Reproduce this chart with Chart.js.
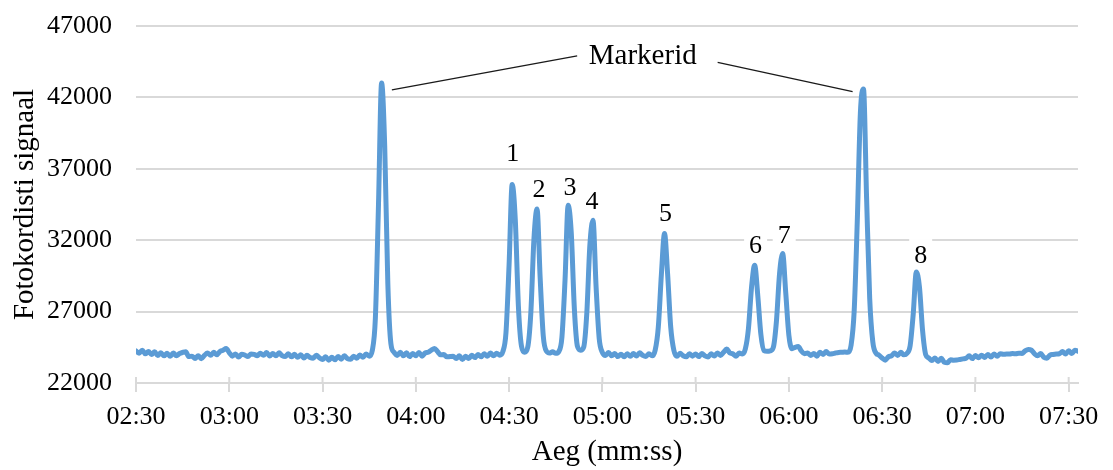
<!DOCTYPE html>
<html>
<head>
<meta charset="utf-8">
<script src="https://cdn.jsdelivr.net/npm/chart.js@4"></script>
<style>
  html, body { margin: 0; padding: 0; background: #fff; }
</style>
</head>
<body>
<canvas id="chart" width="1113" height="470"></canvas>
<script>
// x axis: seconds since start, shown as mm:ss
var tickSecs = [150, 180, 210, 240, 270, 300, 330, 360, 390, 420, 450];
var tickLabels = ['02:30', '03:00', '03:30', '04:00', '04:30', '05:00', '05:30', '06:00', '06:30', '07:00', '07:30'];

// photodetector signal, one reading per second starting at 02:30
var startSec = 150;
var signal = [
    // 02:30
    24250, 24080, 24300, 24040, 24200, 24000, 24180, 23930, 24110, 23900,
    24080, 23870, 24100, 23910, 24060, 24140, 24190, 23850, 23880, 23720,
    23900, 23700, 23930, 24100, 23940, 24150, 23980, 24200, 24300, 24420,
    // 03:00
    24120, 23880, 24030, 23820, 24010, 23960, 23850, 24030, 24000, 23910,
    24090, 23940, 24130, 23890, 24070, 23900, 24110, 23920, 23860, 24040,
    23830, 24010, 23800, 23970, 23750, 23940, 23780, 23730, 23950, 23770,
    // 03:30
    23650, 23830, 23600, 23800, 23630, 23860, 23670, 23910, 23710, 23660,
    23870, 23730, 23960, 23800, 24030, 23880, 24280, 26570, 34490, 43000,
    38590, 28980, 24740, 24150, 23930, 24150, 23900, 24110, 23850, 24070,
    // 04:00
    23910, 24130, 23880, 24100, 24150, 24300, 24420, 24200, 23970, 23990,
    23830, 23850, 23870, 23710, 23900, 23650, 23870, 23710, 23950, 23780,
    24000, 23830, 24050, 23870, 24100, 23910, 24080, 23950, 24200, 25510,
    // 04:30
    30260, 35900, 33440, 27390, 24570, 24150, 24500, 26910, 32080, 34190,
    29360, 25300, 24230, 24100, 24180, 24080, 24200, 25210, 29210, 34440,
    32540, 27200, 24560, 24300, 24510, 26880, 31680, 33390, 28690, 25100,
    // 05:00
    24150, 23930, 24130, 23900, 24070, 23850, 24020, 23830, 24040, 23870,
    24060, 23890, 24110, 23930, 23850, 24050, 23900, 24300, 25900, 29620,
    32470, 29620, 25900, 24300, 23870, 24080, 23910, 23830, 24050, 23880,
    // 05:30
    24030, 23850, 24070, 23900, 23820, 24040, 23890, 24100, 23930, 24150,
    24380, 24100, 24040, 23870, 24100, 24030, 24385, 25820, 28730, 30250,
    28120, 25390, 24270, 24220, 24250, 24500, 26330, 29660, 31060, 28300,
    // 06:00
    25350, 24400, 24500, 24550, 24250, 24050, 24100, 23930, 24070, 23880,
    24150, 24000, 24200, 24030, 24050, 24100, 24140, 24150, 24170, 24150,
    24640, 27010, 33300, 40900, 42590, 34950, 27920, 24880, 24100, 23950,
    // 06:30
    23750, 23600, 23830, 23900, 24100, 23930, 24150, 23970, 24080, 24600,
    26830, 29780, 28720, 25690, 24000, 23750, 23570, 23750, 23510, 23730,
    23450, 23420, 23630, 23600, 23610, 23650, 23690, 23730, 23900, 23710,
    // 07:00
    23930, 23770, 23950, 23790, 24000, 23820, 24030, 23870, 24050, 24010,
    24030, 24030, 24060, 24050, 24080, 24070, 24250, 24350, 24300, 24050,
    23900, 24070, 23800, 23740, 23950, 24000, 24030, 24050, 24200, 24030,
    // 07:30
    24250, 24070, 24300, 24220
];

// peak numbers and marker callout
var peakNames = ['1', '2', '3', '4', '5', '6', '7', '8'];
var markerText = 'Markerid';

// where the callouts sit, in axis units (seconds, signal)
var peakLabelAt = [[271.2, 38000], [279.6, 35500], [289.6, 35630], [296.7, 34650],
                   [320.3, 33820], [349.3, 31580], [358.5, 32280], [402.4, 30890]];
var markerTextAt = [313, 44900];
var markerLeaders = [[232.3, 42520, 291.9, 44915], [337.1, 44450, 380.5, 42400]];

var serif = "'Liberation Serif', 'Times New Roman', serif";
var gridGrey = '#d9d9d9';

var points = signal.map(function (v, i) {
    return { x: startSec + i, y: v };
});

function boxedText(ctx, text, px, py, size) {
    ctx.font = size + 'px ' + serif;
    var w = ctx.measureText(text).width;
    ctx.fillStyle = '#fff';
    ctx.fillRect(px - w / 2 - 5, py - 17, w + 10, 30);
    ctx.fillStyle = '#000';
    ctx.textAlign = 'center';
    ctx.textBaseline = 'middle';
    ctx.fillText(text, px, py);
}

var calloutPlugin = {
    id: 'callouts',
    afterDatasetsDraw: function (chart) {
        var ctx = chart.ctx;
        var x = chart.scales.x;
        var y = chart.scales.y;
        ctx.save();

        // small tick marks above the x axis (cross style)
        ctx.strokeStyle = gridGrey;
        ctx.lineWidth = 2;
        tickSecs.forEach(function (s) {
            var px = x.getPixelForValue(s);
            ctx.beginPath();
            ctx.moveTo(px, chart.chartArea.bottom - 6);
            ctx.lineTo(px, chart.chartArea.bottom);
            ctx.stroke();
        });

        // leader lines to the marker peaks
        ctx.strokeStyle = '#1a1a1a';
        ctx.lineWidth = 1.3;
        markerLeaders.forEach(function (l) {
            ctx.beginPath();
            ctx.moveTo(x.getPixelForValue(l[0]), y.getPixelForValue(l[1]));
            ctx.lineTo(x.getPixelForValue(l[2]), y.getPixelForValue(l[3]));
            ctx.stroke();
        });

        boxedText(ctx, markerText, x.getPixelForValue(markerTextAt[0]), y.getPixelForValue(markerTextAt[1]), 29);

        peakNames.forEach(function (name, i) {
            var at = peakLabelAt[i];
            boxedText(ctx, name, x.getPixelForValue(at[0]), y.getPixelForValue(at[1]), 26);
        });

        ctx.restore();
    }
};

var signalChart = new Chart(document.getElementById('chart'), {
    type: 'line',
    data: {
        datasets: [{
            label: 'Fotokordisti signaal',
            data: points,
            borderColor: '#5b9bd5',
            borderWidth: 5,
            borderCapStyle: 'round',
            borderJoinStyle: 'round',
            pointRadius: 0,
            cubicInterpolationMode: 'monotone',
            fill: false
        }]
    },
    options: {
        responsive: false,
        animation: false,
        layout: {
            padding: { top: 26, right: 35, left: 0, bottom: 0 }
        },
        plugins: {
            legend: { display: false },
            tooltip: { enabled: false }
        },
        scales: {
            x: {
                type: 'linear',
                min: 150,
                max: 453,
                afterBuildTicks: function (scale) {
                    scale.ticks = tickSecs.map(function (s) { return { value: s }; });
                },
                afterFit: function (scale) { scale.height = 87; },
                ticks: {
                    autoSkip: false,
                    maxRotation: 0,
                    padding: 10,
                    color: '#000',
                    font: { family: serif, size: 26 },
                    callback: function (value) {
                        return tickLabels[tickSecs.indexOf(value)];
                    }
                },
                grid: {
                    drawOnChartArea: false,
                    color: gridGrey,
                    lineWidth: 2,
                    tickLength: 9
                },
                border: { color: gridGrey, width: 2 },
                title: {
                    display: true,
                    text: 'Aeg (mm:ss)',
                    color: '#000',
                    font: { family: serif, size: 29 },
                    padding: { top: 0, bottom: 0 }
                }
            },
            y: {
                min: 22000,
                max: 47000,
                afterFit: function (scale) {
                    scale.width = 136;
                    // labels may overhang the plot; do not let them push the chart area
                    scale.paddingTop = 0;
                    scale.paddingBottom = 0;
                },
                ticks: {
                    stepSize: 5000,
                    padding: 24,
                    color: '#000',
                    font: { family: serif, size: 26 },
                    callback: function (value) { return String(value); }
                },
                grid: {
                    color: gridGrey,
                    lineWidth: 2,
                    drawTicks: false
                },
                border: { display: false },
                title: {
                    display: true,
                    text: 'Fotokordisti signaal',
                    color: '#000',
                    font: { family: serif, size: 29 },
                    padding: { top: 8, bottom: 0 }
                }
            }
        }
    },
    plugins: [calloutPlugin]
});
</script>
</body>
</html>
